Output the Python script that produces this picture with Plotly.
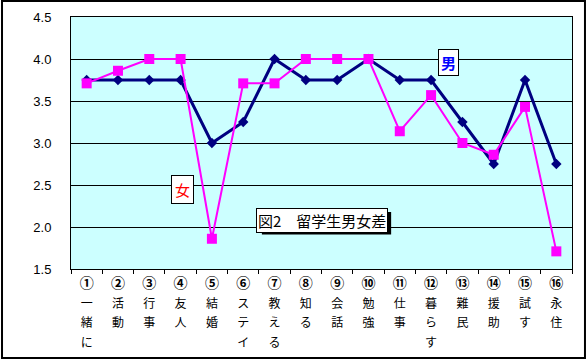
import plotly.graph_objects as go

labels = ["①<br>一<br>緒<br>に", "②<br>活<br>動", "③<br>行<br>事", "④<br>友<br>人",
          "⑤<br>結<br>婚", "⑥<br>ス<br>テ<br>イ", "⑦<br>教<br>え<br>る", "⑧<br>知<br>る",
          "⑨<br>会<br>話", "⑩<br>勉<br>強", "⑪<br>仕<br>事", "⑫<br>暮<br>ら<br>す",
          "⑬<br>難<br>民", "⑭<br>援<br>助", "⑮<br>試<br>す", "⑯<br>永<br>住"]
male = [3.75, 3.75, 3.75, 3.75, 3.0, 3.25, 4.0, 3.75, 3.75, 4.0, 3.75, 3.75, 3.25, 2.75, 3.75, 2.75]
female = [3.71, 3.86, 4.0, 4.0, 1.86, 3.71, 3.71, 4.0, 4.0, 4.0, 3.14, 3.57, 3.0, 2.86, 3.43, 1.71]
y_ticks = [1.5, 2.0, 2.5, 3.0, 3.5, 4.0, 4.5]

cats = ["c%d" % i for i in range(len(labels))]


def fmt(lab):
    parts = lab.split("<br>")
    out = ["<span style='font-size:14px;font-family:Noto Sans CJK JP;font-weight:bold;color:black'>%s</span>" % parts[0]]
    out += ["<span style='font-size:12px'>%s</span>" % p for p in parts[1:]]
    return "<br>".join(out)


ticktext = [fmt(lab) for lab in labels]

fig = go.Figure()
fig.add_trace(go.Scatter(x=cats, y=male, mode="lines+markers", name="男",
                         line=dict(color="#000080", width=3),
                         marker=dict(symbol="diamond", size=8, color="#000080")))
fig.add_trace(go.Scatter(x=cats, y=female, mode="lines+markers", name="女",
                         line=dict(color="#FF00FF", width=2),
                         marker=dict(symbol="square", size=10, color="#FF00FF")))

fig.update_layout(
    width=586, height=360,
    margin=dict(l=71, r=14, t=17, b=91),
    paper_bgcolor="white", plot_bgcolor="#CCFFFF",
    showlegend=False,
    font=dict(family="Noto Sans CJK JP", color="black"),
)
fig.update_xaxes(type="category", tickvals=cats, ticktext=ticktext, range=[-0.5, 15.5],
                 tickson="boundaries", ticks="outside", ticklen=4, tickcolor="black",
                 showgrid=False, showline=True, linecolor="black", linewidth=1, mirror=True,
                 automargin=False,
                 tickfont=dict(size=15, family="Noto Sans CJK JP", color="black"), tickangle=0)
fig.update_yaxes(range=[1.5, 4.5], tickvals=y_ticks, tickformat=".1f",
                 showgrid=True, gridcolor="black", gridwidth=1, zeroline=False,
                 showline=True, linecolor="black", linewidth=1, mirror=True,
                 ticks="", ticklabelstandoff=16, automargin=False,
                 tickfont=dict(size=13, family="Liberation Sans", color="black"))

# outer border
fig.add_shape(type="rect", xref="paper", yref="paper",
              x0=-0.1377, x1=1.0259, y0=-0.3532, y1=1.0635,
              line=dict(color="black", width=2), fillcolor="rgba(0,0,0,0)", layer="above")
# shadow of title box
fig.add_shape(type="rect", xref="paper", yref="paper",
              x0=0.381, x1=0.639, y0=0.137, y1=0.226,
              line=dict(color="black", width=0), fillcolor="black", layer="above")

fig.add_annotation(xref="x", yref="y", x=11.57, y=3.96, text="<b>男</b>",
                   showarrow=False, font=dict(size=15, color="#0000FF", family="Noto Sans CJK JP"),
                   bgcolor="white", bordercolor="black", borderwidth=1, borderpad=2)
fig.add_annotation(xref="x", yref="y", x=3.07, y=2.45, text="女",
                   showarrow=False, font=dict(size=15, color="#FF0000", family="Noto Sans CJK JP"),
                   bgcolor="white", bordercolor="black", borderwidth=1, borderpad=3)
fig.add_annotation(xref="x", yref="y", x=7.53, y=2.08,
                   text="図2　留学生男女差",
                   showarrow=False, font=dict(size=15, color="black", family="Noto Sans CJK JP"),
                   bgcolor="white", bordercolor="black", borderwidth=1, borderpad=1)

fig.write_html("out.html", config={"displayModeBar": False},
               post_script="document.body.style.margin='0px';")
